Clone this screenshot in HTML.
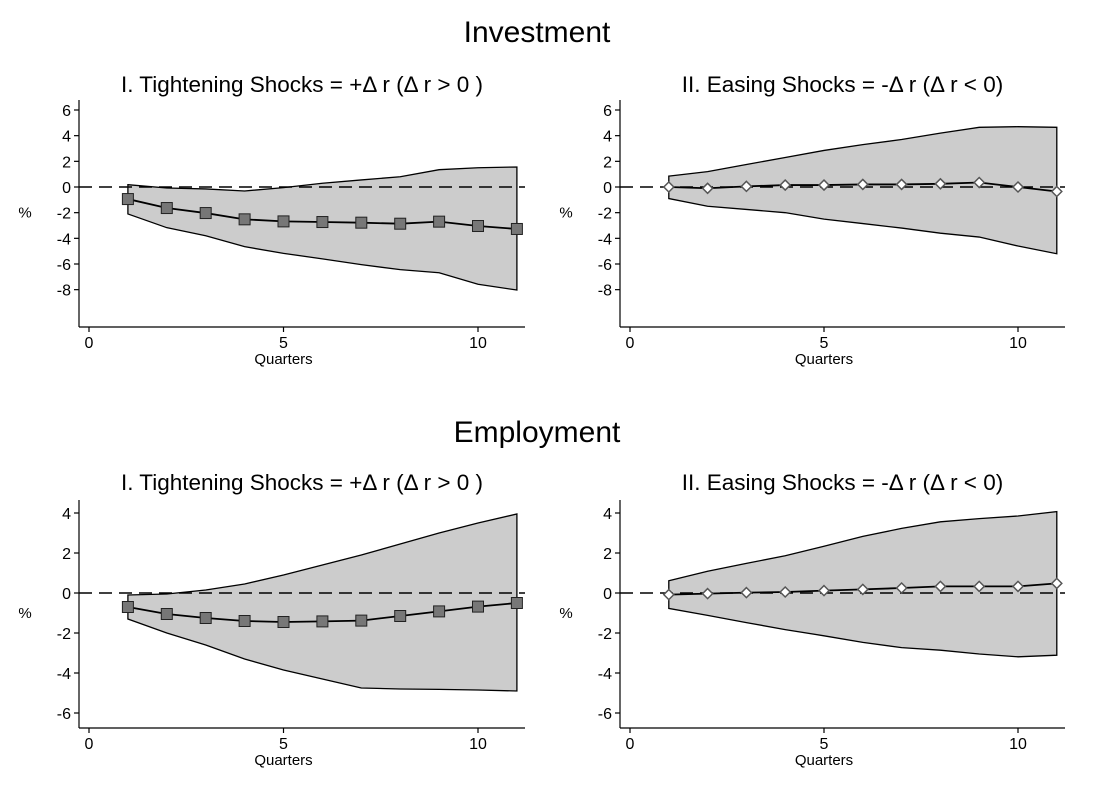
<!DOCTYPE html>
<html><head><meta charset="utf-8"><style>
body{margin:0;background:#fff;font-family:"Liberation Sans",Arial,sans-serif}
svg text{font-family:"Liberation Sans",Arial,sans-serif;fill:#000}
</style></head><body>
<svg id="chart" width="1100" height="787" viewBox="0 0 1100 787">
<text x="537" y="42" font-size="30" text-anchor="middle">Investment</text>
<text x="537" y="442" font-size="30" text-anchor="middle">Employment</text>
</svg>
<script>
const quarters=[1,2,3,4,5,6,7,8,9,10,11];
const xTicks=[0,5,10];
const invTightPoint=[-0.94,-1.64,-2.03,-2.52,-2.68,-2.73,-2.78,-2.86,-2.70,-3.04,-3.27];
const invTightUpper=[0.18,-0.08,-0.15,-0.31,-0.05,0.29,0.55,0.8,1.35,1.5,1.56];
const invTightLower=[-2.1,-3.17,-3.8,-4.65,-5.17,-5.6,-6.05,-6.44,-6.68,-7.58,-8.03];
const invEasePoint=[0,-0.1,0.05,0.15,0.15,0.2,0.2,0.25,0.35,0.0,-0.35];
const invEaseUpper=[0.85,1.2,1.75,2.3,2.85,3.3,3.7,4.2,4.65,4.7,4.65];
const invEaseLower=[-0.9,-1.5,-1.75,-2.0,-2.5,-2.85,-3.2,-3.6,-3.9,-4.6,-5.2];
const invYTicks=[6,4,2,0,-2,-4,-6,-8];
const empTightPoint=[-0.7,-1.05,-1.25,-1.4,-1.45,-1.42,-1.38,-1.15,-0.92,-0.68,-0.5];
const empTightUpper=[-0.1,-0.05,0.15,0.45,0.9,1.4,1.9,2.45,3.0,3.5,3.95];
const empTightLower=[-1.3,-2.0,-2.6,-3.3,-3.85,-4.3,-4.75,-4.8,-4.82,-4.85,-4.9];
const empEasePoint=[-0.08,-0.03,0.02,0.05,0.12,0.18,0.25,0.33,0.33,0.33,0.48];
const empEaseUpper=[0.61,1.09,1.48,1.86,2.34,2.83,3.23,3.56,3.72,3.85,4.07];
const empEaseLower=[-0.77,-1.12,-1.48,-1.83,-2.14,-2.47,-2.73,-2.86,-3.05,-3.19,-3.11];
const empYTicks=[4,2,0,-2,-4,-6];

const NS="http://www.w3.org/2000/svg";
const svg=document.getElementById('chart');
function mk(tag,attrs,parent){const e=document.createElementNS(NS,tag);for(const k in attrs)e.setAttribute(k,attrs[k]);(parent||svg).appendChild(e);return e;}

function panel(o){
  const g=mk('g',{});
  
  
  const xs=v=>o.x0+(v-0)*(o.x10-o.x0)/10;
  const ys=v=>o.y0+(v-0)*(o.yTop-o.y0)/o.yTopVal;
  let d='M'+xs(quarters[0])+','+ys(o.up[0]);
  quarters.forEach((q,i)=>{d+=' L'+xs(q)+','+ys(o.up[i]);});
  for(let i=quarters.length-1;i>=0;i--)d+=' L'+xs(quarters[i])+','+ys(o.lo[i]);
  d+=' Z';
  const band=mk('path',{d:d,fill:'#cccccc',stroke:'#000','stroke-width':1.3},g);
  
  
  const z=mk('line',{x1:o.axL,x2:o.axR,y1:ys(0),y2:ys(0),stroke:'#000','stroke-width':1.5,'stroke-dasharray':'13,7'},g);
  
  
  const pl=mk('polyline',{points:quarters.map((q,i)=>xs(q)+','+ys(o.pt[i])).join(' '),fill:'none',stroke:'#000','stroke-width':1.8},g);
  
  
  quarters.forEach((q,i)=>{
    let m;
    const cx=xs(q),cy=ys(o.pt[i]);
    if(o.marker==='square'){
      m=mk('rect',{x:cx-5.5,y:cy-5.5,width:11,height:11,fill:'#777',stroke:'#222','stroke-width':1},g);
    }else{
      m=mk('path',{d:`M${cx},${cy-5} L${cx+5},${cy} L${cx},${cy+5} L${cx-5},${cy} Z`,fill:'#fff',stroke:'#555','stroke-width':1.5},g);
    }
    
    
  });
  const ya=mk('line',{x1:o.axL,x2:o.axL,y1:o.axT,y2:o.axB,stroke:'#000','stroke-width':1.2},g);
  
  
  const xa=mk('line',{x1:o.axL,x2:o.axR,y1:o.axB,y2:o.axB,stroke:'#000','stroke-width':1.2},g);
  
  
  o.yt.forEach(v=>{
    mk('line',{x1:o.axL-5,x2:o.axL,y1:ys(v),y2:ys(v),stroke:'#000','stroke-width':1.2},g);
    const t=mk('text',{x:o.axL-8,y:ys(v)+6,'font-size':16,'text-anchor':'end'},g);
    t.textContent=v;
    
    
  });
  xTicks.forEach(v=>{
    mk('line',{x1:xs(v),x2:xs(v),y1:o.axB,y2:o.axB+5,stroke:'#000','stroke-width':1.2},g);
    const t=mk('text',{x:xs(v),y:o.axB+21,'font-size':16,'text-anchor':'middle'},g);
    t.textContent=v;
    
    
  });
  const xt=mk('text',{x:xs(5),y:o.axB+37,'font-size':15,'text-anchor':'middle'},g);
  xt.textContent='Quarters';
  
  
  const yt=mk('text',{x:o.axL-54,y:(o.axT+o.axB)/2+4,'font-size':15,'text-anchor':'middle'},g);
  yt.textContent='%';
  
  
  const tt=mk('text',{x:(o.axL+o.axR)/2,y:o.titleY,'font-size':22.5,'text-anchor':'middle'},g);
  tt.textContent=o.title;
  
  
}
const T1='I. Tightening Shocks =  +\u0394 r (\u0394 r > 0 )';
const T2='II. Easing Shocks = -\u0394 r (\u0394 r < 0)';
panel({name:'investment-tightening-panel',x0:89,x10:478,axL:79,axR:525,axT:100,axB:327,y0:187,yTop:110,yTopVal:6,titleY:92,pt:invTightPoint,up:invTightUpper,lo:invTightLower,yt:invYTicks,marker:'square',title:T1});
panel({name:'investment-easing-panel',x0:630,x10:1018,axL:620,axR:1065,axT:100,axB:327,y0:187,yTop:110,yTopVal:6,titleY:92,pt:invEasePoint,up:invEaseUpper,lo:invEaseLower,yt:invYTicks,marker:'diamond',title:T2});
panel({name:'employment-tightening-panel',x0:89,x10:478,axL:79,axR:525,axT:500,axB:728,y0:593,yTop:513,yTopVal:4,titleY:490,pt:empTightPoint,up:empTightUpper,lo:empTightLower,yt:empYTicks,marker:'square',title:T1});
panel({name:'employment-easing-panel',x0:630,x10:1018,axL:620,axR:1065,axT:500,axB:728,y0:593,yTop:513,yTopVal:4,titleY:490,pt:empEasePoint,up:empEaseUpper,lo:empEaseLower,yt:empYTicks,marker:'diamond',title:T2});
</script>
</body></html>
